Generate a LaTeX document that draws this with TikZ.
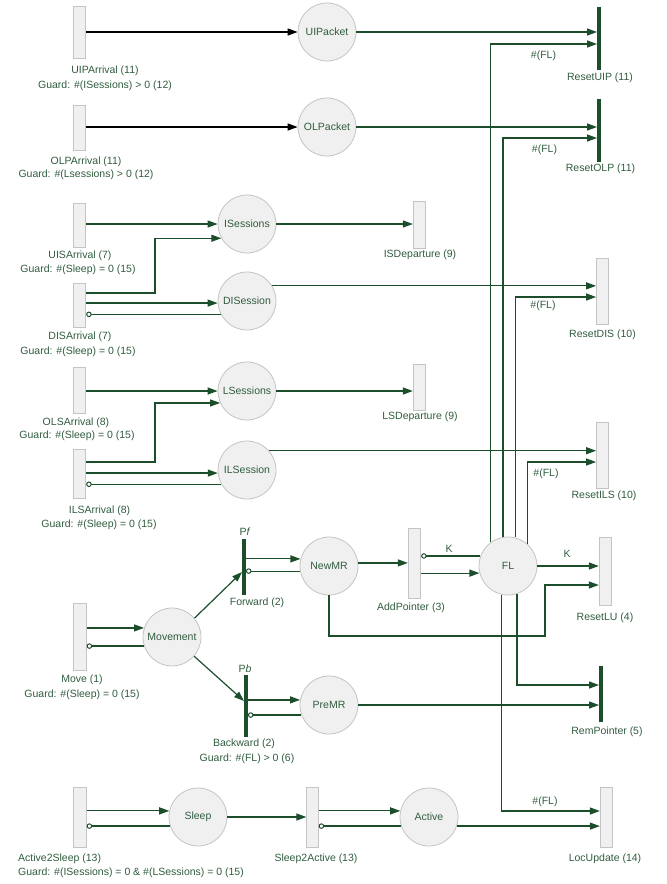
\documentclass[tikz,border=0pt]{standalone}
\usepackage{fontspec}
\setmainfont{Liberation Sans}
\usetikzlibrary{arrows.meta}
\definecolor{lc}{RGB}{28,78,44}
\definecolor{tc}{RGB}{48,92,62}
\definecolor{pfill}{RGB}{240,240,240}
\definecolor{pdraw}{RGB}{196,196,196}
\begin{document}
\begin{tikzpicture}[x=1pt,y=-1pt,
 every node/.style={font=\fontsize{10.5}{12}\selectfont, text=tc, inner sep=0pt},
 trans/.style={rectangle, draw=pdraw, fill=pfill, line width=0.8pt, minimum width=12.5pt},
 tbar/.style={rectangle, fill=lc, minimum width=3.5pt},
 place/.style={circle, draw=pdraw, fill=pfill, line width=0.8pt, minimum size=58pt},
 arr/.style={draw=lc, line width=1.2pt, -{Triangle[length=10pt,width=7pt]}},
 arrblk/.style={draw=black, line width=1.2pt, -{Triangle[length=10pt,width=7pt]}},
 inh/.style={draw=lc, line width=1.2pt, -{Circle[open,length=5.5pt,line width=1pt]}},
 lbl/.style={}]
\useasboundingbox (0,0) rectangle (667,884);

% transitions (rectangles)
\node[trans, minimum height=52pt] (UIPArr) at (79.5,32) {};
\node[trans, minimum height=45pt] (OLPArr) at (79.5,127.5) {};
\node[trans, minimum height=44pt] (UISArr) at (79.5,225) {};
\node[trans, minimum height=44pt] (DISArr) at (79.5,305) {};
\node[trans, minimum height=46pt] (OLSArr) at (79.5,390) {};
\node[trans, minimum height=49pt] (ILSArr) at (79.5,473.5) {};
\node[trans, minimum height=67pt] (Move) at (80,636.5) {};
\node[trans, minimum height=60pt] (A2S) at (80,817) {};
\node[trans, minimum height=47pt] (ISDep) at (419.5,224.5) {};
\node[trans, minimum height=46pt] (LSDep) at (419.5,387.5) {};
\node[trans, minimum height=66pt, minimum width=12pt] (ResetDIS) at (602.5,291) {};
\node[trans, minimum height=66pt, minimum width=12pt] (ResetILS) at (602.5,455) {};
\node[trans, minimum height=70pt] (AddPtr) at (414.5,563) {};
\node[trans, minimum height=68pt] (ResetLU) at (605.5,571.5) {};
\node[trans, minimum height=60pt, minimum width=11.5pt] (S2A) at (312.5,817) {};
\node[trans, minimum height=60pt] (LocUpd) at (606.5,817) {};

% bars
\node[tbar, minimum height=63pt] (ResetUIP) at (599,38.5) {};
\node[tbar, minimum height=63pt] (ResetOLP) at (599,130.5) {};
\node[tbar, minimum height=56pt] (Forward) at (244,567) {};
\node[tbar, minimum height=62pt] (Backward) at (246,706) {};
\node[tbar, minimum height=56pt] (RemPtr) at (601,694) {};

% places
\node[place] (UIPacket) at (327,32) {UIPacket};
\node[place] (OLPacket) at (327,127) {OLPacket};
\node[place] (ISessions) at (247,224) {ISessions};
\node[place] (DISession) at (247,301) {DISession};
\node[place] (LSessions) at (247,391) {LSessions};
\node[place] (ILSession) at (247,470) {ILSession};
\node[place] (FL) at (508,566) {FL};
\node[place] (NewMR) at (329,566) {NewMR};
\node[place] (Movement) at (172,637) {Movement};
\node[place] (PreMR) at (329,705) {PreMR};
\node[place] (Sleep) at (198,817) {Sleep};
\node[place] (Active) at (429,817) {Active};

% labels
\node[lbl] (tUIP) at (105,71) {UIPArrival (11)};
\node[lbl] (gUIP) at (105,86) {Guard: \#(ISessions) > 0 (12)};
\node[lbl] (tOLP) at (86,162) {OLPArrival (11)};
\node[lbl] (gOLP) at (86,175) {Guard: \#(Lsessions) > 0 (12)};
\node[lbl] (tUIS) at (80,256) {UISArrival (7)};
\node[lbl] (gUIS) at (78,270) {Guard: \#(Sleep) = 0 (15)};
\node[lbl] (tDIS) at (80,337) {DISArrival (7)};
\node[lbl] (gDIS) at (78,352) {Guard: \#(Sleep) = 0 (15)};
\node[lbl] (tOLS) at (76,423) {OLSArrival (8)};
\node[lbl] (gOLS) at (77,436) {Guard: \#(Sleep) = 0 (15)};
\node[lbl] (tILS) at (99.5,511) {ILSArrival (8)};
\node[lbl] (gILS) at (99,525) {Guard: \#(Sleep) = 0 (15)};
\node[lbl] (tMove) at (82,680) {Move (1)};
\node[lbl] (gMove) at (82,695) {Guard: \#(Sleep) = 0 (15)};
\node[lbl, anchor=west] (tA2S) at (18,859) {Active2Sleep (13)};
\node[lbl, anchor=west] (gA2S) at (18,873) {Guard: \#(ISessions) = 0 \& \#(LSessions) = 0 (15)};
\node[lbl] (tS2A) at (316,859) {Sleep2Active (13)};
\node[lbl] (tLoc) at (605,859) {LocUpdate (14)};
\node[lbl] (tISD) at (420,255) {ISDeparture (9)};
\node[lbl] (tLSD) at (420,417) {LSDeparture (9)};
\node[lbl] (tRDIS) at (602.5,335) {ResetDIS (10)};
\node[lbl] (tRILS) at (604,496) {ResetILS (10)};
\node[lbl] (tRUIP) at (600,78) {ResetUIP (11)};
\node[lbl] (tROLP) at (600.5,169) {ResetOLP (11)};
\node[lbl] (f1) at (543.5,56) {\#(FL)};
\node[lbl] (f2) at (544.5,150) {\#(FL)};
\node[lbl] (f3) at (543,306) {\#(FL)};
\node[lbl] (f4) at (546,474) {\#(FL)};
\node[lbl] (f5) at (545,802) {\#(FL)};
\node[lbl] (k1) at (449,549) {K};
\node[lbl] (k2) at (567,554) {K};
\node[lbl] (tPf) at (245,532) {P\textit{f}};
\node[lbl] (tFwd) at (257,603) {Forward (2)};
\node[lbl] (tPb) at (245,669) {P\textit{b}};
\node[lbl] (tBwd) at (244,744) {Backward (2)};
\node[lbl] (gBwd) at (247,759) {Guard: \#(FL) > 0 (6)};
\node[lbl] (tAdd) at (411,608) {AddPointer (3)};
\node[lbl] (tRLU) at (605,618) {ResetLU (4)};
\node[lbl] (tRem) at (607,732) {RemPointer (5)};

% bend points
\coordinate (b1) at (155,293);
\coordinate (b2) at (155,462);
\coordinate (b3) at (545,636);

% connectors
\draw[arrblk] (UIPArr.east) -- (UIPacket.west);
\draw[arr] (UIPacket.east) -- (ResetUIP.west |- UIPacket.east);
\draw[arr] (FL.126) |- (ResetUIP.west |- 0,44);
\draw[arrblk] (OLPArr.east |- OLPacket.west) -- (OLPacket.west);
\draw[arr] (OLPacket.east) -- (ResetOLP.west |- OLPacket.east);
\draw[arr] (FL.100) |- (ResetOLP.west |- 0,138);

\draw[arr] (UISArr.east |- ISessions.west) -- (ISessions.west);
\draw[arr] (DISArr.east |- b1) -- (b1) |- (ISessions.209);
\draw[arr] (DISArr.east |- DISession.184) -- (DISession.184);
\draw[inh] (DISession.207) -- (DISArr.east |- DISession.207);
\draw[arr] (ISessions.east) -- (ISDep.west |- ISessions.east);
\draw[arr] (DISession.31) -- (ResetDIS.west |- DISession.31);
\draw[arr] (FL.76) |- (ResetDIS.west |- 0,297);

\draw[arr] (OLSArr.east |- LSessions.west) -- (LSessions.west);
\draw[arr] (ILSArr.east |- b2) -- (b2) |- (LSessions.204);
\draw[arr] (ILSArr.east |- ILSession.186) -- (ILSession.186);
\draw[inh] (ILSession.209) -- (ILSArr.east |- ILSession.209);
\draw[arr] (LSessions.east) -- (LSDep.west |- LSessions.east);
\draw[arr] (ILSession.41) -- (ResetILS.west |- ILSession.41);
\draw[arr] (FL.49) |- (ResetILS.west |- 0,462);

\draw[arr] (FL.east) -- (ResetLU.west |- FL.east);
\draw[arr] (NewMR.south) |- (b3) |- (ResetLU.west |- 0,585);
\draw[arr] (Movement.40) -- (Forward.west |- 0,572);
\draw[arr] (Movement.-41) -- (Backward.west |- 0,701);
\draw[arr] (Forward.east |- NewMR.166) -- (NewMR.166);
\draw[inh] (NewMR.190) -- (Forward.east |- NewMR.190);
\draw[arr] (NewMR.6) -- (AddPtr.west |- NewMR.6);
\draw[inh] (FL.160) -- (AddPtr.east |- FL.160);
\draw[arr] (AddPtr.east |- FL.194) -- (FL.194);
\draw[arr] (FL.288) |- (RemPtr.west |- 0,685);
\draw[arr] (PreMR.east) -- (RemPtr.west |- PreMR.east);
\draw[arr] (FL.258) |- (LocUpd.west |- 0,811);
\draw[arr] (Backward.east |- PreMR.170) -- (PreMR.170);
\draw[inh] (PreMR.200) -- (Backward.east |- PreMR.200);

\draw[arr] (Move.east |- Movement.162) -- (Movement.162);
\draw[inh] (Movement.198) -- (Move.east |- Movement.198);
\draw[arr] (A2S.east |- Sleep.168) -- (Sleep.168);
\draw[inh] (Sleep.198) -- (A2S.east |- Sleep.198);
\draw[arr] (Sleep.east) -- (S2A.west |- Sleep.east);
\draw[arr] (S2A.east |- Active.168) -- (Active.168);
\draw[inh] (Active.198) -- (S2A.east |- Active.198);
\draw[arr] (Active.-18) -- (LocUpd.west |- Active.-18);
\end{tikzpicture}
\end{document}
